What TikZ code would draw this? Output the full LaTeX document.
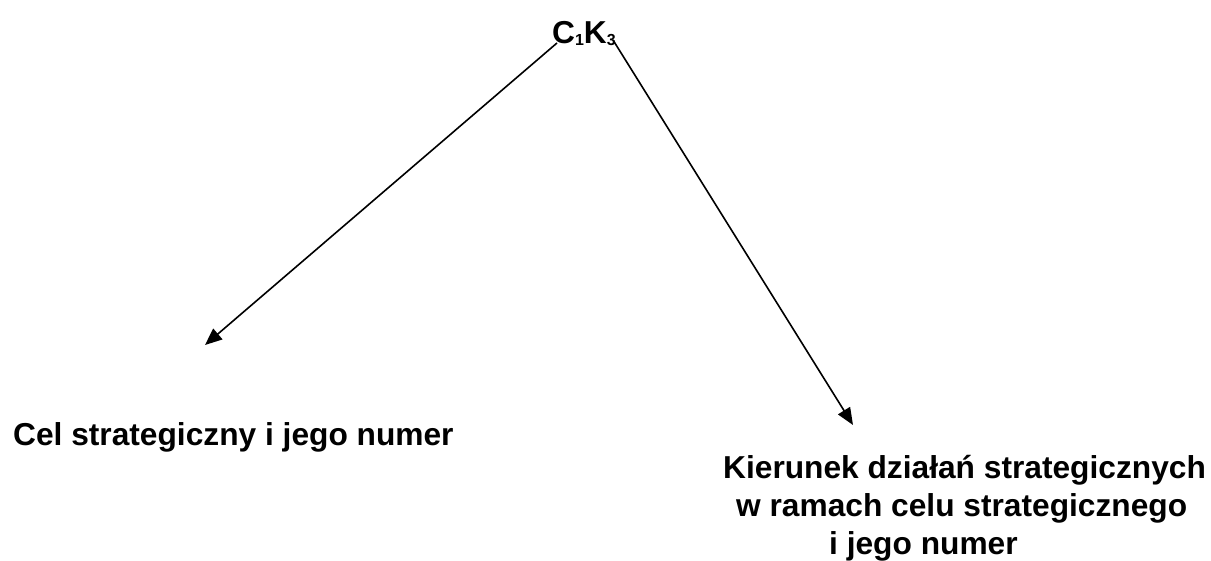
\documentclass[tikz,border=0pt]{standalone}
\usepackage{fontspec}
\setmainfont{Liberation Sans}
\usetikzlibrary{arrows.meta}
\newcommand{\subdig}[1]{\raisebox{-2.5pt}{\fontsize{16}{16}\selectfont #1}}
\begin{document}
\begin{tikzpicture}[x=1pt,y=-1pt,
  lbl/.style={inner sep=0pt, anchor=base west, font=\fontsize{31.7}{36}\selectfont\bfseries},
  conn/.style={line width=1.6pt, -{Triangle[length=17pt,width=14pt]}}]
\useasboundingbox (0,0) rectangle (1211,560);
\node[lbl] (top) at (552,43) {C\subdig{1}K\subdig{3}};
\node[lbl] (cel) at (13,445) {Cel strategiczny i jego numer};
\node[lbl] (k1) at (723,478) {Kierunek działań strategicznych};
\node[lbl] (k2) at (736,516) {w ramach celu strategicznego};
\node[lbl] (k3) at (829,554) {i jego numer};
\coordinate (ls) at (557,43);
\coordinate (rs) at (613,40);
\coordinate (lt) at (205,345);
\coordinate (rt) at (853,425);
\draw[conn] (ls) -- (lt);
\draw[conn] (rs) -- (rt);
\end{tikzpicture}
\end{document}
